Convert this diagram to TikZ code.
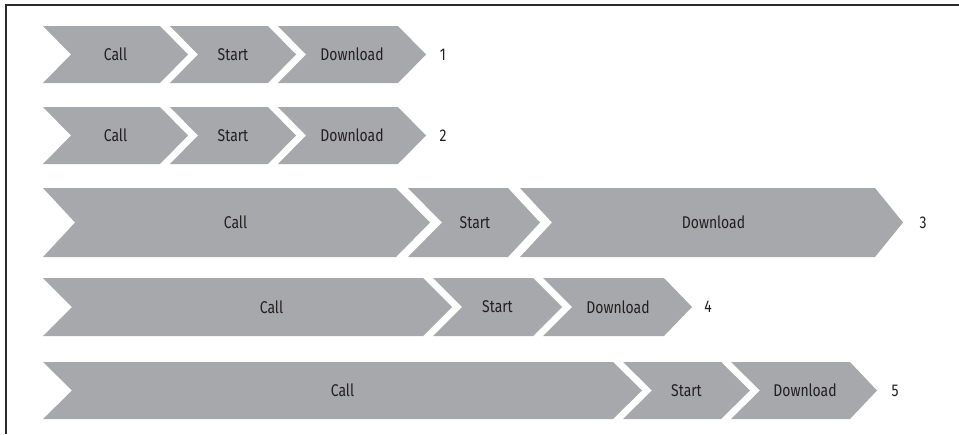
\documentclass[tikz,border=0pt]{standalone}
\usepackage{fontspec}
\setmainfont[FakeStretch=0.82]{Fira Sans}
\usepackage{xcolor}
\usepackage{tikz}
\definecolor{chevgray}{HTML}{A7A8AB}
\definecolor{textdark}{HTML}{231F20}
\definecolor{framegray}{HTML}{2B2B2B}

% [#1 label options] #2 name, #3 left x, #4 right x, #5 top y, #6 bottom y,
% #7 notch depth, #8 tip depth, #9 text
\newcommand{\chev}[9][]{%
  \fill[chevgray] (#3,#5) -- (#4,#5) -- ({#4+#8},{(#5+#6)/2}) -- (#4,#6)
    -- (#3,#6) -- ({#3+#7},{(#5+#6)/2}) -- cycle;
  \node[steplabel,#1] (#2) at ({(#3+#4+#7)/2},{(#5+#6)/2}) {#9};}

\begin{document}
\begin{tikzpicture}[
  x=1pt,y=-1pt,
  steplabel/.style={font=\fontsize{17}{20}\selectfont,text=textdark,inner sep=0pt},
  rownum/.style={font=\fontsize{17}{20}\selectfont,text=textdark,inner sep=0pt},
  frame/.style={draw=framegray,line width=1.2pt}
]
  \useasboundingbox (0,0) rectangle (959,434);
  \draw[frame] (6,434) -- (6,5) -- (959,5);

  % row 1
  \chev{call1}{43}{160}{26}{83}{28}{28}{Call}
  \chev{start1}{170}{268}{26}{83}{28}{28}{Start}
  \chev{down1}{278}{398}{26}{83}{28}{28}{Download}
  \node[rownum] (n1) at (443,54.5) {1};

  % row 2
  \chev{call2}{43}{160}{107}{164}{28}{28}{Call}
  \chev{start2}{170}{268}{107}{164}{28}{28}{Start}
  \chev{down2}{278}{398}{107}{164}{28}{28}{Download}
  \node[rownum] (n2) at (443,135.5) {2};

  % row 3
  \chev{call3}{43}{396}{188}{257}{32}{34}{Call}
  \chev{start3}{408}{508}{188}{257}{34}{32}{Start}
  \chev{down3}{520}{875}{188}{257}{32}{28}{Download}
  \node[rownum] (n3) at (923,222.5) {3};

  % row 4
  \chev[xshift=24pt]{call4}{43}{423}{278}{336}{29}{29}{Call}
  \chev{start4}{433}{533}{278}{336}{29}{29}{Start}
  \chev{down4}{543}{664}{278}{336}{29}{28}{Download}
  \node[rownum] (n4) at (708,307) {4};

  % row 5
  \chev{call5}{43}{613}{362}{419}{29}{29}{Call}
  \chev{start5}{623}{721}{362}{419}{29}{29}{Start}
  \chev{down5}{731}{850}{362}{419}{29}{27}{Download}
  \node[rownum] (n5) at (895,390.5) {5};
\end{tikzpicture}
\end{document}
